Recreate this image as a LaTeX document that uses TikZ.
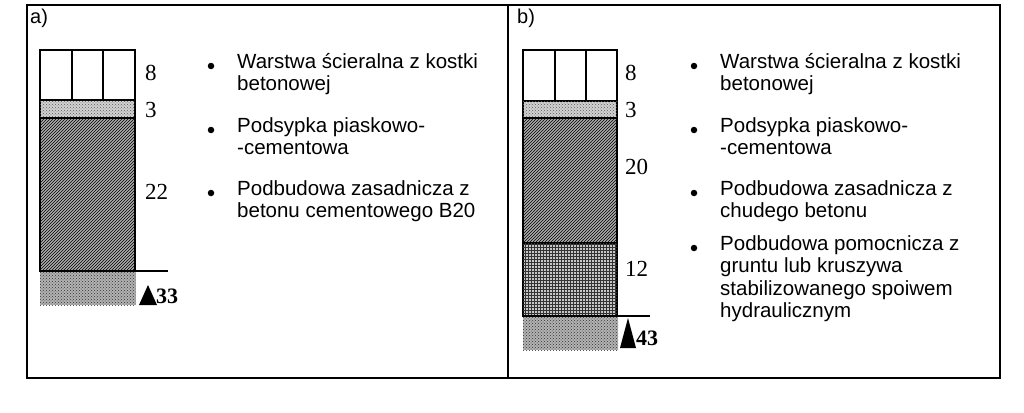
\documentclass[tikz,border=0pt]{standalone}
\usepackage{fontspec}
\setmainfont{Liberation Sans}
\newfontfamily\numfont{Liberation Serif}
\usetikzlibrary{patterns}
\begin{document}
\begin{tikzpicture}[x=1pt,y=-1pt,
  lay/.style={draw=black,line width=1.6pt},
  sand/.style={lay,fill=gray!35,postaction={pattern=crosshatch dots,pattern color=gray!70!black}},
  base/.style={lay,fill=gray!65,postaction={pattern=north east lines,pattern color=black}},
  sub/.style={lay,fill=gray!45,postaction={pattern=grid,pattern color=black!80}},
  ground/.style={fill=gray!60,postaction={pattern=crosshatch dots,pattern color=gray!40!black}},
  num/.style={font=\numfont\fontsize{23}{23}\selectfont,anchor=west,inner sep=0},
  tot/.style={font=\numfont\bfseries\fontsize{22}{22}\selectfont,anchor=west,inner sep=0},
  txt/.style={font=\fontsize{20.5}{22.5}\selectfont,anchor=north west,align=left,inner sep=0},
  bul/.style={circle,fill=black,inner sep=0,minimum size=6.5pt},
  lbl/.style={font=\fontsize{20}{20}\selectfont,anchor=west,inner sep=0}]
\useasboundingbox (0,0) rectangle (1024,412);
\draw[line width=1.6pt] (27,5) rectangle (1000,378);
\draw[line width=1.6pt] (508,5) -- (508,378);
\node[lbl] (la) at (30,18) {a)};
\node[lbl] (lb) at (517,18) {b)};
% panel a
\fill[ground] (40,271) rectangle (136,305);
\draw[lay] (40,50) rectangle (135,100);
\draw[lay] (72,50) -- (72,100) (103,50) -- (103,100);
\draw[sand] (40,100) rectangle (135,118);
\draw[base] (40,118) rectangle (135,271);
\coordinate (ga1) at (40,271); \coordinate (ga2) at (168,271);
\draw[line width=1.2pt] (ga1) -- (ga2);
\fill (139,305) -- (148,285) -- (157,305) -- cycle;
\node[num] (a8) at (145,73) {8};
\node[num] (a3) at (145,110) {3};
\node[num] (a22) at (145,192) {22};
\node[tot] (a33) at (156,296) {33};
\node[bul] (ba1) at (211,66) {};
\node[bul] (ba2) at (211,130) {};
\node[bul] (ba3) at (211,193) {};
\node[txt] (ta1) at (237,53) {Warstwa ścieralna z kostki\\betonowej};
\node[txt] (ta2) at (237,117) {Podsypka piaskowo-\\-cementowa};
\node[txt] (ta3) at (237,180) {Podbudowa zasadnicza z\\betonu cementowego B20};
% panel b
\fill[ground] (523,316) rectangle (618,350);
\draw[lay] (523,50) rectangle (617,101);
\draw[lay] (555,50) -- (555,101) (586,50) -- (586,101);
\draw[sand] (523,101) rectangle (617,118);
\draw[base] (523,118) rectangle (617,243);
\draw[sub] (523,243) rectangle (617,316);
\coordinate (gb1) at (523,316); \coordinate (gb2) at (650,316);
\draw[line width=1.2pt] (gb1) -- (gb2);
\fill (620,348) -- (628,318) -- (636,348) -- cycle;
\node[num] (b8) at (625,73) {8};
\node[num] (b3) at (625,110) {3};
\node[num] (b20) at (625,167) {20};
\node[num] (b12) at (625,269) {12};
\node[tot] (b43) at (636,338) {43};
\node[bul] (bb1) at (694,66) {};
\node[bul] (bb2) at (694,130) {};
\node[bul] (bb3) at (694,193) {};
\node[bul] (bb4) at (694,248) {};
\node[txt] (tb1) at (720,53) {Warstwa ścieralna z kostki\\betonowej};
\node[txt] (tb2) at (720,117) {Podsypka piaskowo-\\-cementowa};
\node[txt] (tb3) at (720,180) {Podbudowa zasadnicza z\\chudego betonu};
\node[txt] (tb4) at (720,235) {Podbudowa pomocnicza z\\gruntu lub kruszywa\\stabilizowanego spoiwem\\hydraulicznym};
\end{tikzpicture}
\end{document}
